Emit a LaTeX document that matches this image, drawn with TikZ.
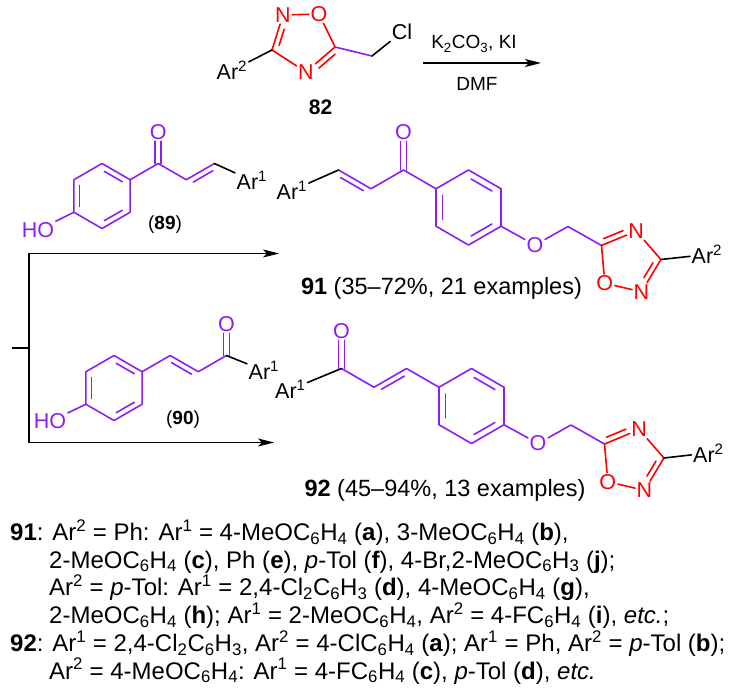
\documentclass[tikz,border=0pt]{standalone}
\usepackage{fontspec}
\setmainfont{Liberation Sans}
\usetikzlibrary{arrows.meta,calc}
\definecolor{vio}{RGB}{140,30,245}
\definecolor{hetred}{RGB}{255,0,0}
\newcommand{\tsub}[1]{\textsubscript{#1}}
\newcommand{\tsup}[1]{\textsuperscript{#1}}
% second line of a double bond, on one side of a--b
\newcommand{\sidebond}[4][]{\draw[bond,#1] ($(#2)!0.15!(#3)!5.5pt!#4:(#3)$) -- ($(#2)!0.85!(#3)!5.5pt!#4:(#3)$);}
\newcommand{\hetside}[4][]{\draw[bond,#1] ($(#2)!0.12!(#3)!5.5pt!#4:(#3)$) -- ($(#2)!0.68!(#3)!5.5pt!#4:(#3)$);}
% inner line of a ring double bond
\newcommand{\ringbond}[4][]{\draw[bond,#1] ($(#2)!0.1!(#3)!0.2!(#4)$) -- ($(#3)!0.1!(#2)!0.2!(#4)$);}
\newcommand{\hetring}[4][]{\draw[bond,#1] ($(#2)!0.1!(#3)!0.2!(#4)$) -- ($(#3)!0.32!(#2)!0.2!(#4)$);}

\begin{document}
\begin{tikzpicture}[x=1pt,y=-1pt,
  bond/.style={line width=1.6pt,line cap=round,line join=round},
  atom/.style={inner sep=1.5pt,font=\fontsize{21.5}{25}\selectfont},
  het/.style={atom,text=hetred},
  cpd/.style={inner sep=0pt,font=\fontsize{19}{23}\selectfont},
  yield/.style={inner sep=0pt,font=\fontsize{23.5}{27}\selectfont},
  note/.style={inner sep=0pt,anchor=base west,font=\fontsize{24}{27}\selectfont},
  rxn/.style={line width=1.1pt,-{Stealth[length=16pt,width=8pt,inset=4pt]}}]
\useasboundingbox (0,0) rectangle (730,700);

% 82
\coordinate (ctr82) at (303,41);
\node[het] (N82a) at (283,15) {N};
\node[het] (O82) at (319,14) {O};
\coordinate (C82b) at (335,47);
\node[het] (N82b) at (306,72) {N};
\coordinate (C82a) at (272,50);
\coordinate (CH82) at (372,56);
\node[atom] (Cl82) at (402,32) {Cl};
\node[atom,anchor=base west] (Ar82) at (215,79.5) {Ar\tsup{2}};
\draw[bond,hetred] (C82a) -- (N82a) -- (O82) -- (C82b) -- (N82b) -- (C82a);
\hetring[hetred]{C82a}{N82a}{ctr82}
\hetside[hetred]{C82b}{N82b}{90}
\draw[bond,vio] (C82b) -- (CH82);
\draw[bond] (CH82) -- (Cl82);
\draw[bond] (C82a) -- (Ar82);
\node[cpd,font=\fontsize{21}{24}\selectfont] (n82) at (320.5,107) {\textbf{82}};
\coordinate (s82) at (423,63);
\coordinate (e82) at (541,63);
\draw[rxn] (s82) -- (e82);
\node[cpd] (k82) at (474,44) {K\tsub{2}CO\tsub{3}, KI};
\node[cpd] (d82) at (477,84) {DMF};

% 89
\coordinate (ctr89) at (102,196);
\coordinate (t89) at (102,163.5);
\coordinate (ur89) at (130.1,179.75);
\coordinate (lr89) at (130.1,212.25);
\coordinate (b89) at (102,228.5);
\coordinate (ll89) at (73.9,212.25);
\coordinate (ul89) at (73.9,179.75);
\coordinate (co89) at (158.2,163.5);
\coordinate (al89) at (186.3,179.75);
\coordinate (be89) at (214.4,163.5);
\node[atom,text=vio] (HO89) at (38,230) {HO};
\node[atom,text=vio] (O89) at (158.2,132) {O};
\node[atom,anchor=base west] (Ar89) at (235,189.5) {Ar\tsup{1}};
\draw[bond,vio] (t89) -- (ur89) -- (lr89) -- (b89) -- (ll89) -- (ul89) -- cycle;
\ringbond[vio]{t89}{ur89}{ctr89}
\ringbond[vio]{lr89}{b89}{ctr89}
\ringbond[vio]{ll89}{ul89}{ctr89}
\draw[bond,vio] (ll89) -- (HO89);
\draw[bond,vio] (ur89) -- (co89) -- (al89) -- (be89);
\draw[bond,vio] ([xshift=-3pt]co89) -- ([xshift=-3pt]O89.south);
\draw[bond,vio] ([xshift=3pt]co89) -- ([xshift=3pt]O89.south);
\sidebond[vio]{al89}{be89}{-90}
\draw[bond] (be89) -- (Ar89);
\node[cpd] (n89) at (165,225) {(\textbf{89})};

% 90
\coordinate (ctr90) at (114,388);
\coordinate (t90) at (114,355.5);
\coordinate (ur90) at (142.1,371.75);
\coordinate (lr90) at (142.1,404.25);
\coordinate (b90) at (114,420.5);
\coordinate (ll90) at (85.9,404.25);
\coordinate (ul90) at (85.9,371.75);
\coordinate (v90a) at (170.2,355.5);
\coordinate (v90b) at (198.3,371.75);
\coordinate (co90) at (226.4,355.5);
\node[atom,text=vio] (HO90) at (50,421.5) {HO};
\node[atom,text=vio] (O90) at (226.4,324) {O};
\node[atom,anchor=base west] (Ar90) at (247,379.5) {Ar\tsup{1}};
\draw[bond,vio] (t90) -- (ur90) -- (lr90) -- (b90) -- (ll90) -- (ul90) -- cycle;
\ringbond[vio]{t90}{ur90}{ctr90}
\ringbond[vio]{lr90}{b90}{ctr90}
\ringbond[vio]{ll90}{ul90}{ctr90}
\draw[bond,vio] (ll90) -- (HO90);
\draw[bond,vio] (ur90) -- (v90a) -- (v90b) -- (co90);
\sidebond[vio]{v90a}{v90b}{-90}
\draw[bond,vio] ([xshift=-3pt]co90) -- ([xshift=-3pt]O90.south);
\draw[bond,vio] ([xshift=3pt]co90) -- ([xshift=3pt]O90.south);
\draw[bond] (co90) -- (Ar90);
\node[cpd] (n90) at (183,420) {(\textbf{90})};

% arrows
\coordinate (tick) at (12,348);
\coordinate (mid) at (29,348);
\coordinate (top) at (29,253.5);
\coordinate (bot) at (29,442.5);
\coordinate (e91) at (279,253.5);
\coordinate (e92) at (274,442.5);
\draw[line width=1.1pt] (tick) -- (mid);
\draw[line width=1.1pt] (top) -- (bot);
\draw[rxn] (top) -- (e91);
\draw[rxn] (bot) -- (e92);

% 91
\coordinate (ctr91) at (468.5,207.5);
\coordinate (t91) at (468.5,170);
\coordinate (ur91) at (501,188.75);
\coordinate (lr91) at (501,226.25);
\coordinate (b91) at (468.5,245);
\coordinate (ll91) at (436,226.25);
\coordinate (ul91) at (436,188.75);
\coordinate (co91) at (403.5,170);
\coordinate (al91) at (371,188.75);
\coordinate (be91) at (338.5,170);
\coordinate (CH91) at (568,226.5);
\coordinate (pc91) at (629,262.3);
\coordinate (C91a) at (601.5,245.5);
\coordinate (C91b) at (660.9,259.5);
\node[atom,text=vio] (O91) at (403.5,132) {O};
\node[atom,text=vio] (Oe91) at (535,245) {O};
\node[het] (N91a) at (636.2,231.1) {N};
\node[het] (N91b) at (641.5,291.8) {N};
\node[het] (O91r) at (604.8,283.3) {O};
\node[atom,anchor=base west] (Ar91a) at (275,199.5) {Ar\tsup{1}};
\node[atom,anchor=base west] (Ar91b) at (690,263.5) {Ar\tsup{2}};
\draw[bond,vio] (t91) -- (ur91) -- (lr91) -- (b91) -- (ll91) -- (ul91) -- cycle;
\ringbond[vio]{t91}{ur91}{ctr91}
\ringbond[vio]{lr91}{b91}{ctr91}
\ringbond[vio]{ll91}{ul91}{ctr91}
\draw[bond,vio] (ul91) -- (co91) -- (al91) -- (be91);
\draw[bond,vio] ([xshift=-3pt]co91) -- ([xshift=-3pt]O91.south);
\draw[bond,vio] ([xshift=3pt]co91) -- ([xshift=3pt]O91.south);
\sidebond[vio]{be91}{al91}{-90}
\draw[bond] (be91) -- (Ar91a);
\draw[bond,vio] (lr91) -- (Oe91) -- (CH91) -- (C91a);
\draw[bond,hetred] (C91a) -- (N91a) -- (C91b) -- (N91b) -- (O91r) -- (C91a);
\hetside[hetred]{C91a}{N91a}{90}
\hetring[hetred]{C91b}{N91b}{pc91}
\draw[bond] (C91b) -- (Ar91b);
\node[yield] (n91) at (441.5,288) {\textbf{91} (35–72\%, 21 examples)};

% 92
\coordinate (ctr92) at (471.5,406);
\coordinate (t92) at (471.5,368.5);
\coordinate (ur92) at (504,387.25);
\coordinate (lr92) at (504,424.75);
\coordinate (b92) at (471.5,443.5);
\coordinate (ll92) at (439,424.75);
\coordinate (ul92) at (439,387.25);
\coordinate (be92) at (406.5,368.5);
\coordinate (al92) at (374,387.25);
\coordinate (co92) at (341.5,368.5);
\coordinate (CH92) at (571,425);
\coordinate (pc92) at (632,460.8);
\coordinate (C92a) at (604.5,444);
\coordinate (C92b) at (663.9,458);
\node[atom,text=vio] (O92) at (341.5,331) {O};
\node[atom,text=vio] (Oe92) at (538,443.5) {O};
\node[het] (N92a) at (639.2,429.6) {N};
\node[het] (N92b) at (644.5,490.3) {N};
\node[het] (O92r) at (607.8,481.8) {O};
\node[atom,anchor=base west] (Ar92a) at (273.5,398.5) {Ar\tsup{1}};
\node[atom,anchor=base west] (Ar92b) at (691.5,462) {Ar\tsup{2}};
\draw[bond,vio] (t92) -- (ur92) -- (lr92) -- (b92) -- (ll92) -- (ul92) -- cycle;
\ringbond[vio]{t92}{ur92}{ctr92}
\ringbond[vio]{lr92}{b92}{ctr92}
\ringbond[vio]{ll92}{ul92}{ctr92}
\draw[bond,vio] (ul92) -- (be92) -- (al92) -- (co92);
\sidebond[vio]{al92}{be92}{-90}
\draw[bond,vio] ([xshift=-3pt]co92) -- ([xshift=-3pt]O92.south);
\draw[bond,vio] ([xshift=3pt]co92) -- ([xshift=3pt]O92.south);
\draw[bond] (co92) -- (Ar92a);
\draw[bond,vio] (lr92) -- (Oe92) -- (CH92) -- (C92a);
\draw[bond,hetred] (C92a) -- (N92a) -- (C92b) -- (N92b) -- (O92r) -- (C92a);
\hetside[hetred]{C92a}{N92a}{90}
\hetring[hetred]{C92b}{N92b}{pc92}
\draw[bond] (C92b) -- (Ar92b);
\node[yield] (n92) at (445,490) {\textbf{92} (45–94\%, 13 examples)};

% examples
\node[note] (l1) at (10,540.5) {\textbf{91}: Ar\tsup{2} = Ph: Ar\tsup{1} = 4-MeOC\tsub{6}H\tsub{4} (\textbf{a}), 3-MeOC\tsub{6}H\tsub{4} (\textbf{b}),};
\node[note] (l2) at (49,568.2) {2-MeOC\tsub{6}H\tsub{4} (\textbf{c}), Ph (\textbf{e}), \textit{p}-Tol (\textbf{f}), 4-Br,2-MeOC\tsub{6}H\tsub{3} (\textbf{j});};
\node[note] (l3) at (49,595.9) {Ar\tsup{2} = \textit{p}-Tol: Ar\tsup{1} = 2,4-Cl\tsub{2}C\tsub{6}H\tsub{3} (\textbf{d}), 4-MeOC\tsub{6}H\tsub{4} (\textbf{g}),};
\node[note] (l4) at (49,623.6) {2-MeOC\tsub{6}H\tsub{4} (\textbf{h}); Ar\tsup{1} = 2-MeOC\tsub{6}H\tsub{4}, Ar\tsup{2} = 4-FC\tsub{6}H\tsub{4} (\textbf{i}), \textit{etc.};};
\node[note] (l5) at (10,651.3) {\textbf{92}: Ar\tsup{1} = 2,4-Cl\tsub{2}C\tsub{6}H\tsub{3}, Ar\tsup{2} = 4-ClC\tsub{6}H\tsub{4} (\textbf{a}); Ar\tsup{1} = Ph, Ar\tsup{2} = \textit{p}-Tol (\textbf{b});};
\node[note] (l6) at (49,679) {Ar\tsup{2} = 4-MeOC\tsub{6}H\tsub{4}: Ar\tsup{1} = 4-FC\tsub{6}H\tsub{4} (\textbf{c}), \textit{p}-Tol (\textbf{d}), \textit{etc.}};
\end{tikzpicture}
\end{document}
